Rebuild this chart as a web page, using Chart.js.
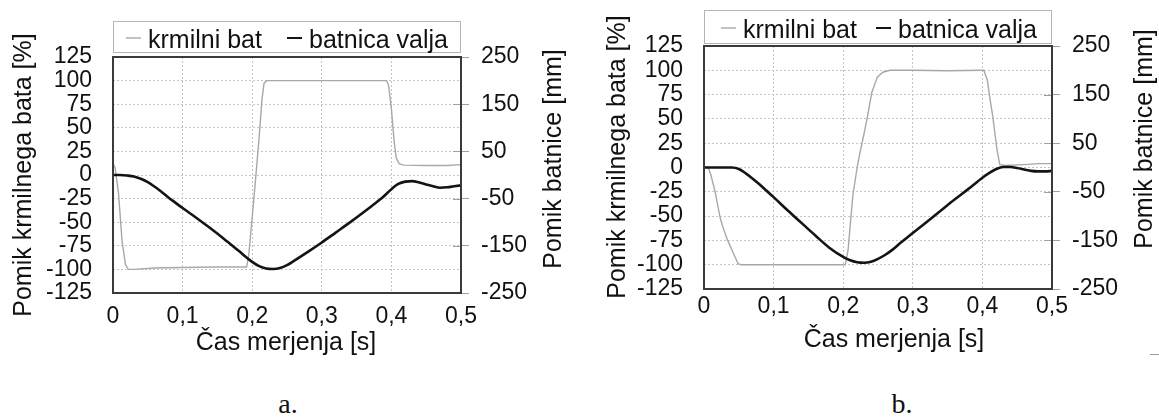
<!DOCTYPE html>
<html>
<head>
<meta charset="utf-8">
<script src="https://cdn.jsdelivr.net/npm/chart.js@4.4.1/dist/chart.umd.min.js"></script>
<style>
  html, body { margin: 0; padding: 0; background: #fff; }
  body { width: 1159px; height: 418px; position: relative; overflow: hidden; }
  canvas { position: absolute; top: 0; }
  #chartA { left: 0; }
  #chartB { left: 580px; }
  .caption {
    position: absolute; top: 390px; width: 60px; text-align: center;
    font-family: "Liberation Serif", "Times New Roman", serif; font-size: 28px; line-height: 28px; color: #111;
  }
  .dash { position: absolute; left: 1150px; top: 354px; width: 9px; height: 1px; background: #9a9a9a; }
</style>
</head>
<body>
<canvas id="chartA" width="580" height="370"></canvas>
<canvas id="chartB" width="579" height="370"></canvas>
<div class="caption" style="left:258px">a.</div>
<div class="caption" style="left:872px">b.</div>
<div class="dash"></div>
<script>
// ---- data ----
const seriesNames = ['krmilni bat', 'batnica valja'];
const xTitle = 'Čas merjenja [s]';
const leftTitle = 'Pomik krmilnega bata [%]';
const rightTitle = 'Pomik batnice [mm]';
const xTickLabels = ['0', '0,1', '0,2', '0,3', '0,4', '0,5'];
const leftTicks = [-125, -100, -75, -50, -25, 0, 25, 50, 75, 100, 125];
const rightTicks = [-250, -150, -50, 50, 150, 250];

// a. spool position [%]
const timeSpoolA = [0, 0.003, 0.008, 0.013, 0.018, 0.022, 0.03, 0.06, 0.10, 0.15, 0.192, 0.195, 0.2, 0.205, 0.21, 0.214, 0.217, 0.221, 0.30, 0.393, 0.396, 0.400, 0.404, 0.407, 0.411, 0.418, 0.45, 0.48, 0.5];
const spoolA = [12, 8, -20, -70, -95, -100, -100, -98.5, -98, -97.5, -97.5, -85, -45, -3, 40, 80, 97, 100, 100, 100, 95, 70, 35, 18, 12, 10.5, 10, 10, 11];
// a. piston rod position [mm]
const timeRodA = [0, 0.01, 0.02, 0.03, 0.04, 0.05, 0.06, 0.07, 0.08, 0.09, 0.10, 0.12, 0.14, 0.16, 0.18, 0.20, 0.21, 0.22, 0.23, 0.24, 0.25, 0.26, 0.28, 0.30, 0.32, 0.34, 0.36, 0.38, 0.39, 0.40, 0.41, 0.42, 0.43, 0.44, 0.45, 0.46, 0.47, 0.48, 0.49, 0.50];
const rodA = [0, 0, -1, -3, -8, -15, -25, -36, -48, -59, -70, -91, -113, -136, -160, -184, -193, -198, -199, -197, -191, -182, -163, -143, -122, -101, -79, -56, -44, -30, -19, -14, -13, -16, -20, -24, -27, -26, -24, -22];

// b. spool position [%]
const timeSpoolB = [0, 0.006, 0.010, 0.016, 0.023, 0.027, 0.034, 0.042, 0.049, 0.053, 0.10, 0.15, 0.203, 0.207, 0.210, 0.214, 0.220, 0.224, 0.230, 0.234, 0.241, 0.249, 0.257, 0.267, 0.30, 0.35, 0.40, 0.402, 0.407, 0.411, 0.415, 0.421, 0.425, 0.432, 0.46, 0.48, 0.5];
const spoolB = [0, 0, -8, -25, -51, -61, -75, -88, -99, -100, -100, -100, -100, -85, -60, -28, 0, 15, 35, 49, 77, 93, 98, 100, 100, 99.5, 100, 100, 90, 70, 52, 18, 3, 2, 3, 4, 4];
// b. piston rod position [mm]
const timeRodB = [0, 0.02, 0.04, 0.05, 0.06, 0.07, 0.08, 0.09, 0.10, 0.12, 0.14, 0.16, 0.18, 0.20, 0.21, 0.22, 0.23, 0.24, 0.25, 0.26, 0.27, 0.28, 0.30, 0.32, 0.34, 0.36, 0.38, 0.40, 0.41, 0.42, 0.43, 0.44, 0.45, 0.46, 0.47, 0.48, 0.49, 0.50];
const rodB = [0, 0, 0, -3, -12, -23, -35, -48, -61, -88, -114, -140, -165, -184, -191, -195, -196, -194, -188, -180, -170, -158, -135, -112, -89, -66, -44, -21, -11, -3, 1, 1, -1, -4, -7, -8, -8, -7];

Chart.defaults.font.family = '"Liberation Sans", Arial, sans-serif';
Chart.defaults.color = '#111';

function pts(ts, vs) {
    return ts.map((t, i) => ({ x: t, y: vs[i] }));
}

// frame, inner right ticks, boxed legend and axis titles
const panelPlugin = {
    id: 'panel',
    afterDatasetsDraw(chart, args, o) {
        const { ctx, chartArea: a } = chart;
        const y2 = chart.scales.y2;
        ctx.save();
        ctx.strokeStyle = '#a0a0a0';
        ctx.lineWidth = 1;
        y2.ticks.forEach(t => {
            const y = Math.round(y2.getPixelForValue(t.value)) + 0.5;
            ctx.beginPath();
            ctx.moveTo(a.right - 8, y);
            ctx.lineTo(a.right, y);
            ctx.stroke();
        });
        ctx.strokeStyle = '#3a3a3a';
        ctx.lineWidth = 2;
        ctx.strokeRect(a.left, a.top, a.right - a.left, a.bottom - a.top);
        ctx.restore();
    },
    afterDraw(chart, args, o) {
        const { ctx, chartArea: a } = chart;
        const L = o.legend;
        ctx.save();
        ctx.strokeStyle = '#b4b4b4';
        ctx.lineWidth = 1;
        ctx.strokeRect(a.left + 0.5, L.top + 0.5, a.right - a.left - 1, L.bottom - L.top);
        ctx.font = '25px "Liberation Sans", Arial, sans-serif';
        ctx.fillStyle = '#111';
        ctx.textAlign = 'left';
        ctx.textBaseline = 'alphabetic';
        L.order.forEach((di, k) => {
            const ds = chart.data.datasets[di];
            const mx = L.markers[k];
            ctx.strokeStyle = ds.borderColor;
            ctx.lineWidth = Math.min(ds.borderWidth, 2);
            ctx.beginPath();
            ctx.moveTo(mx, L.baseline - 10);
            ctx.lineTo(mx + 15, L.baseline - 10);
            ctx.stroke();
            ctx.fillText(ds.label, mx + 22, L.baseline);
        });
        ctx.textAlign = 'center';
        ctx.textBaseline = 'middle';
        o.titles.forEach(t => {
            ctx.save();
            ctx.translate(t.x, t.y);
            if (t.vertical) ctx.rotate(-Math.PI / 2);
            ctx.fillText(t.text, 0, 0);
            ctx.restore();
        });
        ctx.restore();
    }
};

function makeChart(id, spoolT, spool, rodT, rod, box, layoutOpts) {
    const canvas = document.getElementById(id);
    const W = canvas.width, H = canvas.height;
    return new Chart(canvas, {
        type: 'line',
        data: {
            datasets: [{
                label: seriesNames[0],
                data: pts(spoolT, spool),
                yAxisID: 'y',
                borderColor: '#a8a8a8',
                borderWidth: 1.4,
                pointRadius: 0,
                tension: 0,
                order: 2
            }, {
                label: seriesNames[1],
                data: pts(rodT, rod),
                yAxisID: 'y2',
                borderColor: '#141414',
                borderWidth: 2.6,
                pointRadius: 0,
                cubicInterpolationMode: 'monotone',
                order: 1
            }]
        },
        options: {
            responsive: false,
            animation: false,
            events: [],
            layout: { padding: { top: box.top, left: 0, right: 0, bottom: 0 } },
            plugins: {
                legend: { display: false },
                tooltip: { enabled: false },
                panel: layoutOpts
            },
            scales: {
                x: {
                    type: 'linear',
                    min: 0,
                    max: 0.5,
                    ticks: {
                        stepSize: 0.1,
                        autoSkip: false,
                        maxRotation: 0,
                        padding: box.xPad,
                        font: { size: 23 },
                        callback: (v, i) => xTickLabels[i]
                    },
                    grid: { color: '#c4c4c4', lineWidth: 1, drawTicks: false },
                    border: { display: false, dash: [2, 2] },
                    afterFit: s => { s.height = H - box.bottom; }
                },
                y: {
                    position: 'left',
                    min: -125,
                    max: 125,
                    afterBuildTicks: s => { s.ticks = leftTicks.map(v => ({ value: v })); },
                    ticks: { autoSkip: false, padding: 21, font: { size: 23 } },
                    grid: { color: '#c4c4c4', lineWidth: 1, drawTicks: false },
                    border: { display: false, dash: [2, 2] },
                    afterFit: s => { s.width = box.left; }
                },
                y2: {
                    position: 'right',
                    min: -250,
                    max: 250,
                    afterBuildTicks: s => { s.ticks = rightTicks.map(v => ({ value: v })); },
                    ticks: { autoSkip: false, padding: 12, font: { size: 23 } },
                    grid: { drawOnChartArea: false, drawTicks: true, tickLength: 8, tickColor: '#a0a0a0', tickWidth: 1 },
                    border: { display: false },
                    afterFit: s => { s.width = W - box.right; }
                }
            }
        },
        plugins: [panelPlugin]
    });
}

makeChart('chartA', timeSpoolA, spoolA, timeRodA, rodA,
    { left: 113, right: 461, top: 57, bottom: 293, xPad: 10 },
    {
        legend: { top: 21, bottom: 52, baseline: 48, order: [0, 1], markers: [126, 287] },
        titles: [
            { text: leftTitle, x: 24, y: 175, vertical: true },
            { text: rightTitle, x: 554, y: 159, vertical: true },
            { text: xTitle, x: 286, y: 343 }
        ]
    });

makeChart('chartB', timeSpoolB, spoolB, timeRodB, rodB,
    { left: 124, right: 472, top: 46, bottom: 289, xPad: 4 },
    {
        legend: { top: 10, bottom: 43, baseline: 38, order: [0, 1], markers: [141, 296] },
        titles: [
            { text: leftTitle, x: 38, y: 157, vertical: true },
            { text: rightTitle, x: 565, y: 139, vertical: true },
            { text: xTitle, x: 314, y: 340 }
        ]
    });
</script>
</body>
</html>
